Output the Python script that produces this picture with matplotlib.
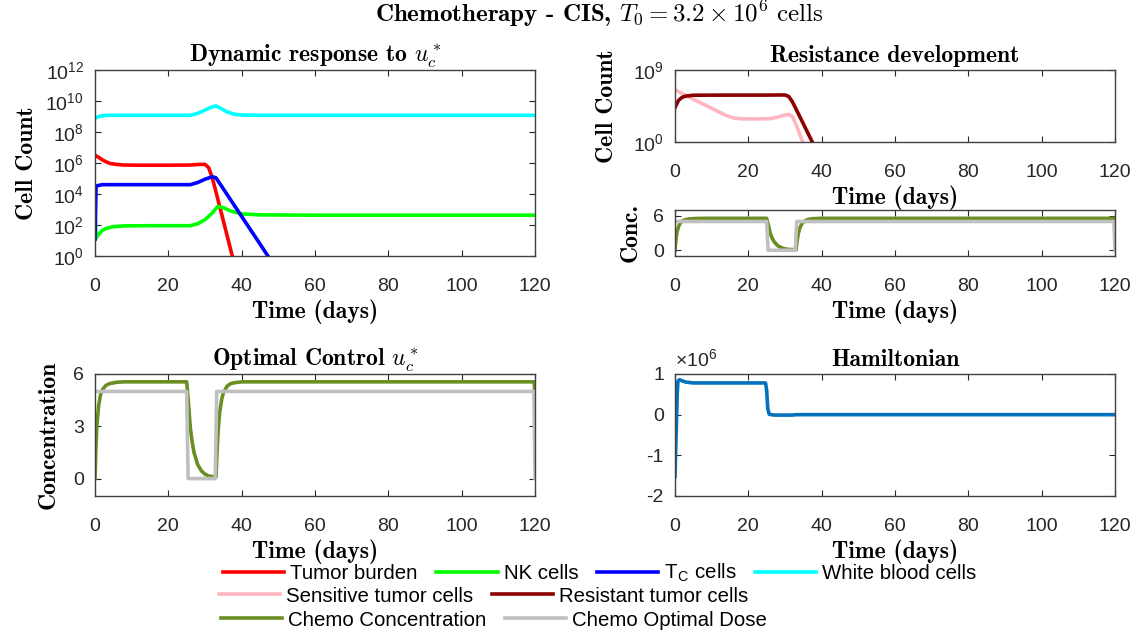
import numpy as np
import matplotlib
matplotlib.use('Agg')
import matplotlib.pyplot as plt
from matplotlib.ticker import FixedLocator, FuncFormatter, NullLocator
from matplotlib.lines import Line2D

plt.rcParams['font.family'] = 'Liberation Sans'
plt.rcParams['mathtext.fontset'] = 'cm'

# ---- dynamic response (cell counts) ----
t_tumor = [0, 1, 2, 3, 4, 6, 8, 12, 20, 26, 28, 30, 31, 32, 34, 36, 38]
tumor = [3.2e6, 2.3e6, 1.6e6, 1.2e6, 9.5e5, 8e5, 7.4e5, 7.2e5, 7.2e5, 7.4e5, 8e5, 8.2e5,
         5e5, 1.1e5, 1.6e3, 22, 0.3]

t_nk = [0, 0.3, 1, 2, 3, 5, 8, 15, 26, 28, 30, 32, 33.5, 35, 37, 40, 45, 60, 120]
nk = [1e3, 14, 25, 45, 60, 78, 88, 90, 90, 120, 220, 600, 1.6e3, 1.3e3, 800, 520, 450, 430, 430]

t_tc = [0, 0.3, 2, 10, 26, 28, 30, 32, 33, 36, 40, 44, 48]
tc = [12, 3.3e4, 4e4, 4e4, 4e4, 5.5e4, 9e4, 1.3e5, 1.1e5, 9.5e3, 355, 13.5, 0.5]

t_wbc = [0, 1, 3, 26, 28, 30, 32, 33, 34.5, 36, 38, 40, 45, 120]
wbc = [7.6e8, 1.0e9, 1.2e9, 1.2e9, 1.6e9, 2.6e9, 4.2e9, 4.8e9, 3.2e9, 2e9, 1.4e9, 1.25e9, 1.2e9, 1.2e9]

# ---- resistance development ----
t_sens = [0, 3, 6, 9, 12, 14, 16, 18, 22, 26, 28, 30, 31, 32, 33, 34, 35]
sens = [3.5e6, 6.3e5, 1.3e5, 2.8e4, 5.6e3, 2e3, 1e3, 800, 760, 830, 1.3e3, 2.4e3, 2.8e3,
        1.6e3, 160, 10, 0.6]

t_res = [0, 0.5, 1, 2, 3, 5, 10, 25, 29, 30, 31, 32, 34, 36, 38]
res = [2e4, 6e4, 1.7e5, 4e5, 5.5e5, 7e5, 7.2e5, 7.3e5, 7.6e5, 7.5e5, 5e5, 1.1e5, 1.6e3, 22, 0.3]

# ---- chemo concentration and optimal dose ----
t_conc = [0, 0.25, 0.5, 1, 1.5, 2, 3, 4, 6, 8, 25, 25.5, 26, 26.5, 27, 28, 29, 30, 31, 33,
          33.3, 33.6, 34, 34.6, 35, 36, 37, 38, 40, 119.8, 120]
conc = [0, 1.8, 3.0, 4.2, 4.8, 5.1, 5.35, 5.45, 5.53, 5.55, 5.55, 4.3, 2.9, 2.1, 1.5, 0.8,
        0.45, 0.25, 0.15, 0.08, 1.6, 2.8, 3.8, 4.6, 4.9, 5.3, 5.45, 5.5, 5.55, 5.55, 4.5]

t_dose = [0, 25.0, 25.4, 32.8, 33.2, 119.7, 120]
dose = [5, 5, 0, 0, 5, 5, 0]

# ---- Hamiltonian ----
t_ham = [0, 0.3, 0.6, 0.8, 1.2, 2, 3, 5, 10, 24.7, 25.0, 25.3, 25.7, 27, 30, 32, 33, 120]
ham = [-1.52e6, -0.5e6, 0.5e6, 0.82e6, 0.86e6, 0.83e6, 0.8e6, 0.78e6, 0.78e6, 0.78e6,
       0.6e6, 0.15e6, 0.01e6, -0.01e6, -0.01e6, -0.01e6, 0.0, 0.0]

C_TUMOR, C_NK, C_TC, C_WBC = '#ff0000', '#00ff00', '#0000ff', '#00ffff'
C_SENS, C_RES = '#ffb6c1', '#8b0000'
C_CONC, C_DOSE = '#6b8e23', '#c0c0c0'
C_HAM = '#0072bd'
LW = 2.6
BOLD = dict(family='cmb10', size=17, color='black')
xticks = [0, 20, 40, 60, 80, 100, 120]


def pow10(v, pos):
    return r'$\mathregular{10^{%d}}$' % int(round(np.log10(v)))


def style(ax):
    ax.set_xlim(0, 120)
    ax.xaxis.set_major_locator(FixedLocator(xticks))
    ax.tick_params(direction='in', top=True, right=True, length=4, width=0.8,
                   labelsize=14, colors='#262626')
    ax.tick_params(axis='x', pad=16)
    ax.tick_params(axis='y', pad=8)
    for s in ax.spines.values():
        s.set_color('#404040')
        s.set_linewidth(1.0)
    ax.set_xlabel('Time (days)', fontdict=BOLD, labelpad=3)


W, H = 1136, 637
fig = plt.figure(figsize=(W / 100, H / 100), dpi=100)


def box(x0, y0, x1, y1):
    return fig.add_axes([x0 / W, 1 - y1 / H, (x1 - x0) / W, (y1 - y0) / H])


# top left
ax1 = box(95, 70, 535, 256)
ax1.plot(t_tumor, tumor, color=C_TUMOR, lw=LW)
ax1.plot(t_nk, nk, color=C_NK, lw=LW)
ax1.plot(t_tc, tc, color=C_TC, lw=LW)
ax1.plot(t_wbc, wbc, color=C_WBC, lw=LW)
ax1.set_yscale('log')
ax1.set_ylim(1, 1e12)
ax1.yaxis.set_major_locator(FixedLocator([10.0 ** k for k in range(0, 13, 2)]))
ax1.yaxis.set_major_formatter(FuncFormatter(pow10))
ax1.yaxis.set_minor_locator(NullLocator())
style(ax1)
ax1.set_title(r'Dynamic response to $u_c^*$', fontdict=BOLD, pad=6)
ax1.set_ylabel('Cell Count', fontdict=BOLD)
ax1.yaxis.set_label_coords(-0.13, 0.5)

# top right, upper
ax2 = box(675, 70, 1115, 142)
ax2.plot(t_sens, sens, color=C_SENS, lw=LW)
ax2.plot(t_res, res, color=C_RES, lw=LW)
ax2.set_yscale('log')
ax2.set_ylim(1, 1e9)
ax2.yaxis.set_major_locator(FixedLocator([1.0, 1e9]))
ax2.yaxis.set_major_formatter(FuncFormatter(pow10))
ax2.yaxis.set_minor_locator(NullLocator())
style(ax2)
ax2.set_title('Resistance development', fontdict=BOLD, pad=6)
ax2.set_ylabel('Cell Count', fontdict=BOLD)
ax2.yaxis.set_label_coords(-0.13, 0.5)

# top right, lower
ax3 = box(675, 210, 1115, 256)
ax3.plot(t_conc, conc, color=C_CONC, lw=LW)
ax3.plot(t_dose, dose, color=C_DOSE, lw=LW)
ax3.set_ylim(-1, 7)
ax3.yaxis.set_major_locator(FixedLocator([0, 6]))
style(ax3)
ax3.set_ylabel('Conc.', fontdict=BOLD)
ax3.yaxis.set_label_coords(-0.075, 0.5)

# bottom left
ax4 = box(95, 374, 535, 496)
ax4.plot(t_conc, conc, color=C_CONC, lw=LW)
ax4.plot(t_dose, dose, color=C_DOSE, lw=LW)
ax4.set_ylim(-1, 6)
ax4.yaxis.set_major_locator(FixedLocator([0, 3, 6]))
style(ax4)
ax4.set_title(r'Optimal Control $u_c^*$', fontdict=BOLD, pad=6)
ax4.set_ylabel('Concentration', fontdict=BOLD)
ax4.yaxis.set_label_coords(-0.08, 0.5)

# bottom right
ax5 = box(675, 374, 1115, 496)
ax5.plot(t_ham, ham, color=C_HAM, lw=LW)
ax5.set_ylim(-2e6, 1e6)
ax5.yaxis.set_major_locator(FixedLocator([-2e6, -1e6, 0, 1e6]))
ax5.yaxis.set_major_formatter(FuncFormatter(lambda v, p: '%g' % (v / 1e6)))
style(ax5)
ax5.set_title('Hamiltonian', fontdict=BOLD, pad=6)
ax5.text(0.0, 1.02, '×10$^{\\mathregular{6}}$', transform=ax5.transAxes, fontsize=14,
         color='#262626', ha='left', va='bottom')

fig.text(599 / W, 1 - 14 / H, r'Chemotherapy - CIS, $T_0 = 3.2\times10^6\ \mathrm{cells}$',
         ha='center', va='center', family='cmb10', size=18)

# legends
rows = [
    (223, 573, [('Tumor burden', C_TUMOR), ('NK cells', C_NK),
                ('T$_\\mathregular{C}$ cells', C_TC), ('White blood cells', C_WBC)]),
    (219, 596, [('Sensitive tumor cells', C_SENS), ('Resistant tumor cells', C_RES)]),
    (221, 620, [('Chemo Concentration', C_CONC), ('Chemo Optimal Dose', C_DOSE)]),
]
for x0, yc, items in rows:
    handles = [Line2D([], [], color=c, lw=LW) for _, c in items]
    labels = [lab for lab, _ in items]
    fig.legend(handles, labels, loc='center left', bbox_to_anchor=(x0 / W, 1 - yc / H),
               ncol=len(items), frameon=False, borderpad=0, borderaxespad=0,
               handlelength=3.0, handletextpad=0.3, columnspacing=0.9, fontsize=14.7)

fig.savefig('out.png', dpi=100)
